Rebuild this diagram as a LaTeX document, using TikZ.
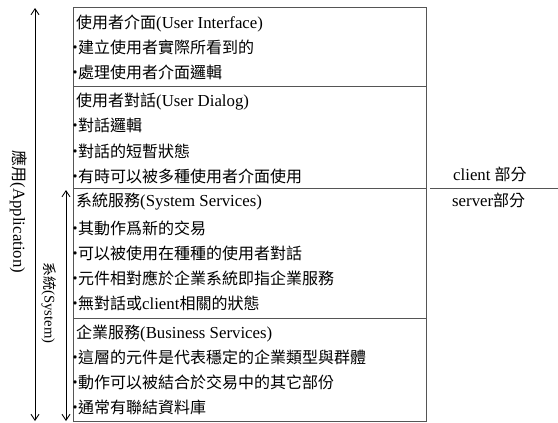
\documentclass[tikz,border=0pt]{standalone}
\usepackage{fontspec}
\setmainfont{Liberation Serif}[Scale=1.05]
\newfontfamily\cjk{Noto Sans CJK TC}
\usetikzlibrary{arrows.meta}
\newcommand\zh[1]{{\cjk #1}}
\newcommand\bul{\makebox[6pt]{\cjk ‧}}
\definecolor{boxc}{RGB}{85,85,85}
\tikzset{
  layer/.style={draw=boxc, line width=1pt, inner sep=0pt, minimum width=353pt, anchor=north west},
  txt/.style={anchor=base west, inner sep=0pt, font=\fontsize{16}{16}\selectfont},
  sidelab/.style={rotate=-90, inner sep=0pt, anchor=center},
  axis/.style={{Straight Barb[length=6pt,width=8pt]}-{Straight Barb[length=6pt,width=8pt]}, line width=0.9pt},
  split/.style={draw=boxc, line width=1pt}
}
\begin{document}
\begin{tikzpicture}[x=1pt,y=-1pt]
\useasboundingbox (0,0) rectangle (558,423);
% layers
\node[layer, minimum height=79pt]  (ui)  at (73,7)   {};
\node[layer, minimum height=102pt] (dlg) at (73,86)  {};
\node[layer, minimum height=130pt] (sys) at (73,188) {};
\node[layer, minimum height=103pt] (biz) at (73,318) {};
% section 1
\node[txt] (t11) at (76,28)  {\zh{使用者介面}(User Interface)};
\node[txt] (t12) at (72,53)  {\bul\zh{建立使用者實際所看到的}};
\node[txt] (t13) at (72,78)  {\bul\zh{處理使用者介面邏輯}};
% section 2
\node[txt] (t21) at (76,106) {\zh{使用者對話}(User Dialog)};
\node[txt] (t22) at (72,131) {\bul\zh{對話邏輯}};
\node[txt] (t23) at (72,157) {\bul\zh{對話的短暫狀態}};
\node[txt] (t24) at (72,182) {\bul\zh{有時可以被多種使用者介面使用}};
% section 3
\node[txt] (t31) at (76,206) {\zh{系統服務}(System Services)};
\node[txt] (t32) at (72,234) {\bul\zh{其動作爲新的交易}};
\node[txt] (t33) at (72,259) {\bul\zh{可以被使用在種種的使用者對話}};
\node[txt] (t34) at (72,284) {\bul\zh{元件相對應於企業系統即指企業服務}};
\node[txt] (t35) at (72,309) {\bul\zh{無對話或}client\zh{相關的狀態}};
% section 4
\node[txt] (t41) at (76,338) {\zh{企業服務}(Business Services)};
\node[txt] (t42) at (72,363) {\bul\zh{這層的元件是代表穩定的企業類型與群體}};
\node[txt] (t43) at (72,388) {\bul\zh{動作可以被結合於交易中的其它部份}};
\node[txt] (t44) at (72,413) {\bul\zh{通常有聯結資料庫}};
% client / server split
\coordinate (sl) at (430,188);
\coordinate (sr) at (558,188);
\draw[split] (sl) -- (sr);
\node[txt] (cli) at (453,180) {client \zh{部分}};
\node[txt] (srv) at (452,206) {server\zh{部分}};
% axes
\coordinate (at) at (35,8);
\coordinate (ab) at (35,421);
\coordinate (st) at (66,190);
\coordinate (sb) at (66,421);
\draw[axis] (at) -- (ab);
\draw[axis] (st) -- (sb);
\node[sidelab, font=\fontsize{16}{16}\selectfont] (app) at (18.5,212) {\zh{應用}(Application)};
\node[sidelab, font=\fontsize{14}{14}\selectfont] (syslab) at (49,303) {\zh{系統}(System)};
\end{tikzpicture}
\end{document}
